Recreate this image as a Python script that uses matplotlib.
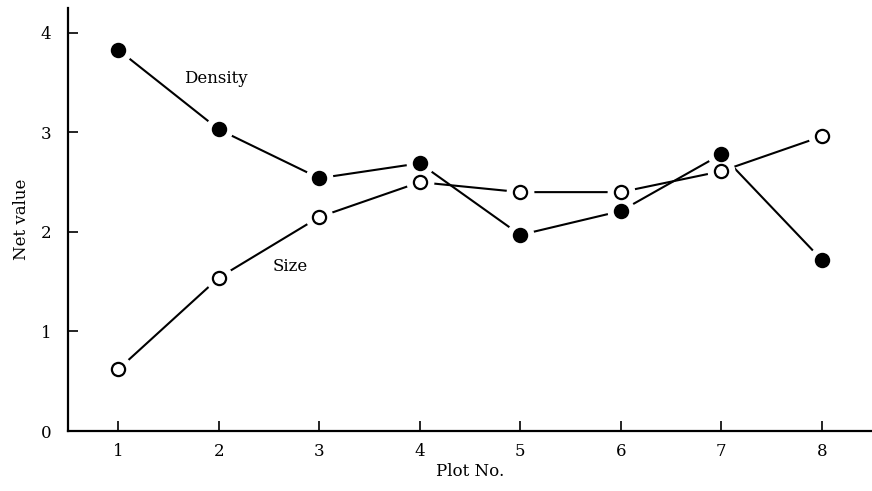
import matplotlib
matplotlib.use("Agg")
import matplotlib.pyplot as plt

plot_no = [1, 2, 3, 4, 5, 6, 7, 8]
density = [3.83, 3.03, 2.54, 2.69, 1.97, 2.21, 2.78, 1.72]
size = [0.62, 1.54, 2.15, 2.50, 2.40, 2.40, 2.61, 2.96]

plt.rcParams['font.family'] = ['DejaVu Serif']

fig = plt.figure(figsize=(8.72, 4.91), dpi=100)
ax = fig.add_axes([68 / 872, (491 - 431) / 491, (872 - 68) / 872, (431 - 8) / 491])

for vals, face in [(density, 'black'), (size, 'white')]:
    ax.plot(plot_no, vals, color='black', lw=1.5, zorder=1)
    # white halo so the lines stop short of the markers
    ax.plot(plot_no, vals, 'o', ms=19, color='white', mec='white', zorder=2)
    ax.plot(plot_no, vals, 'o', ms=9.5, mfc=face, mec='black', mew=1.6, zorder=3)

ax.text(1.97, 3.54, 'Density', fontsize=12, ha='center', va='center')
ax.text(2.71, 1.65, 'Size', fontsize=12, ha='center', va='center')

ax.set_xlim(0.5, 8.5)
ax.set_ylim(0, 4.25)
ax.set_xticks(plot_no)
ax.set_yticks([0, 1, 2, 3, 4])
ax.tick_params(direction='in', length=7, width=1.2, labelsize=12, pad=9)
ax.tick_params(axis='y', pad=12)
for s in ['top', 'right']:
    ax.spines[s].set_visible(False)
for s in ['left', 'bottom']:
    ax.spines[s].set_linewidth(1.6)

ax.set_xlabel('Plot No.', fontsize=12, labelpad=2)
ax.set_ylabel('Net value', fontsize=12, labelpad=8)

fig.savefig('out.png', dpi=100)
